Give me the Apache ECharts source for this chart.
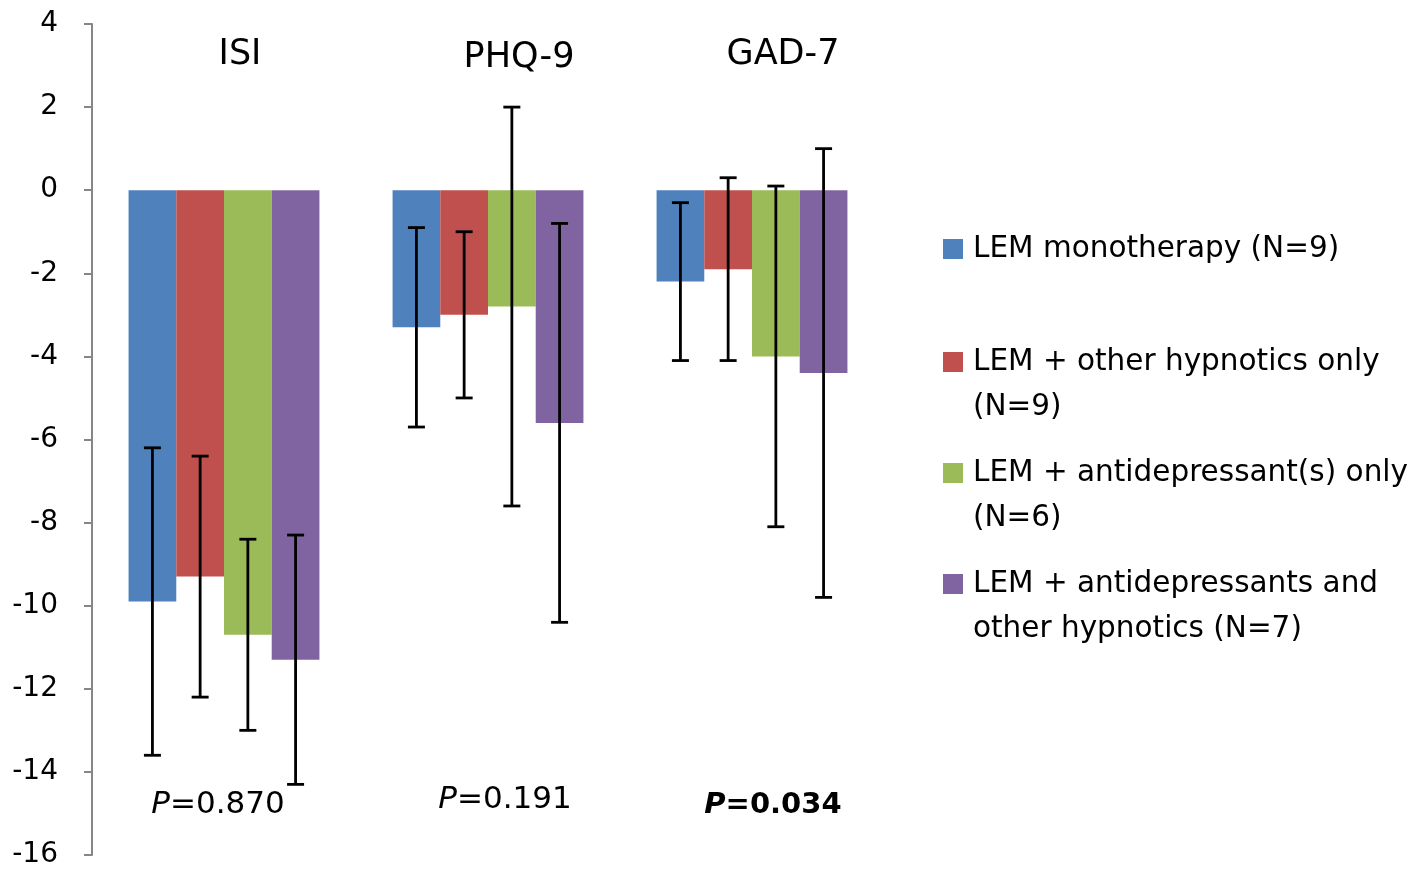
<!DOCTYPE html>
<html>
<head>
<meta charset="utf-8">
<script src="https://cdn.jsdelivr.net/npm/echarts@6/dist/echarts.min.js"></script>
<style>
html,body{margin:0;padding:0;background:#fff}
#chart{width:1418px;height:877px}
</style>
</head>
<body>
<div id="chart"></div>
<script>
// data
var categories = ['ISI', 'PHQ-9', 'GAD-7'];
var groupNames = ['LEM monotherapy (N=9)', 'LEM + other hypnotics only\n(N=9)', 'LEM + antidepressant(s) only\n(N=6)', 'LEM + antidepressants and\nother hypnotics (N=7)'];
var colors = ['#4f81bd', '#c0504d', '#9bbb59', '#8064a2'];
var monoValues = [-9.9, -3.3, -2.2];
var hypnoticValues = [-9.3, -3.0, -1.9];
var antidepValues = [-10.7, -2.8, -4.0];
var bothValues = [-11.3, -5.6, -4.4];
var monoErr = [3.7, 2.4, 1.9];
var hypnoticErr = [2.9, 2.0, 2.2];
var antidepErr = [2.3, 4.8, 4.1];
var bothErr = [3.0, 4.8, 5.4];
var pValues = ['0.870', '0.191', '0.034'];
var pBold = [false, false, true];

var font = 'DejaVu Sans';
var gapPct = 27.7;
var allValues = [monoValues, hypnoticValues, antidepValues, bothValues];
var allErr = [monoErr, hypnoticErr, antidepErr, bothErr];

var chart = echarts.init(document.getElementById('chart'));

function errorRender(k) {
	return function (params, api) {
		var c = api.value(0);
		var lo = api.coord([c, api.value(1)]);
		var hi = api.coord([c, api.value(2)]);
		var band = api.size([1, 0])[0];
		var barW = band * (1 - gapPct / 100) / 4;
		var x = lo[0] + (k - 1.5) * barW;
		var cap = 8.5;
		var st = {stroke: '#000', lineWidth: 2.8};
		return {
			type: 'group',
			children: [
				{type: 'line', shape: {x1: x, y1: hi[1], x2: x, y2: lo[1]}, style: st},
				{type: 'line', shape: {x1: x - cap, y1: hi[1], x2: x + cap, y2: hi[1]}, style: st},
				{type: 'line', shape: {x1: x - cap, y1: lo[1], x2: x + cap, y2: lo[1]}, style: st}
			]
		};
	};
}

var series = [];
allValues.forEach(function (vals, k) {
	series.push({
		name: groupNames[k],
		type: 'bar',
		data: vals,
		barGap: '0%',
		barCategoryGap: gapPct + '%',
		itemStyle: {color: colors[k]}
	});
});
allValues.forEach(function (vals, k) {
	var d = vals.map(function (v, i) {
		return [i, v - allErr[k][i], v + allErr[k][i]];
	});
	series.push({
		name: 'err' + k,
		type: 'custom',
		renderItem: errorRender(k),
		data: d,
		z: 5
	});
});

// one legend per entry; two-line names get a blank line on top
// so the marker lines up with the first line of text
var legendCenters = [249, 362, 473, 584];
var lineH = 45;
var legends = groupNames.map(function (n, k) {
	var twoLine = n.indexOf('\n') > 0;
	return {
		data: [n],
		orient: 'vertical',
		left: 943,
		top: legendCenters[k] - (twoLine ? lineH * 1.5 : lineH / 2),
		padding: 0,
		itemWidth: 20,
		itemHeight: 20,
		itemGap: 0,
		icon: 'rect',
		formatter: function (name) {
			return name.indexOf('\n') > 0 ? ' \n' + name : name;
		},
		textStyle: {
			fontFamily: font,
			fontSize: 29.5,
			lineHeight: lineH,
			color: '#000',
			padding: [0, 0, 0, 5]
		}
	};
});

var labelPos = [[240, 55], [519, 58], [783, 55]];
var pPos = [[218, 805], [505, 800], [773, 805]];
var graphics = [];
categories.forEach(function (c, i) {
	graphics.push({
		type: 'text',
		x: labelPos[i][0],
		y: labelPos[i][1],
		style: {text: c, font: '35px "' + font + '"', fill: '#000', align: 'center', verticalAlign: 'middle'}
	});
	var w = pBold[i] ? 'bold' : 'normal';
	var fs = pBold[i] ? 29 : 31;
	graphics.push({
		type: 'text',
		x: pPos[i][0],
		y: pPos[i][1],
		style: {
			text: '{i|P}{n|=' + pValues[i] + '}',
			align: 'center',
			verticalAlign: 'middle',
			rich: {
				i: {fontFamily: font, fontSize: fs, fontStyle: 'italic', fontWeight: w, fill: '#000'},
				n: {fontFamily: font, fontSize: fs, fontWeight: w, fill: '#000'}
			}
		}
	});
});

option = {
	backgroundColor: '#fff',
	animation: false,
	grid: {left: 92, right: 534, top: 24, bottom: 22},
	legend: legends,
	xAxis: {
		type: 'category',
		data: categories,
		axisLine: {show: false},
		axisTick: {show: false},
		axisLabel: {show: false}
	},
	yAxis: {
		type: 'value',
		min: -16,
		max: 4,
		interval: 2,
		splitLine: {show: false},
		axisLine: {show: true, lineStyle: {color: '#868686', width: 2}},
		axisTick: {show: true, length: 8, lineStyle: {color: '#868686', width: 2}},
		axisLabel: {fontFamily: font, fontSize: 28, color: '#000', margin: 34}
	},
	graphic: graphics,
	series: series
};
chart.setOption(option);
</script>
</body>
</html>
